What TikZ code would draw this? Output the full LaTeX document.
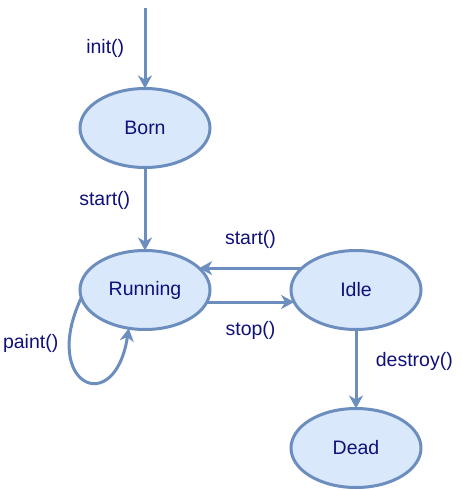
\documentclass[tikz,border=0pt]{standalone}
\usepackage{fontspec}
\setmainfont{Liberation Sans}
\usepackage{tikz}
\usetikzlibrary{positioning}
\usetikzlibrary{shapes.geometric}
\usetikzlibrary{arrows.meta}

\definecolor{stateFill}{HTML}{DAE8FC}
\definecolor{stateLine}{HTML}{6C8EBF}
\definecolor{stateText}{HTML}{10107A}

\begin{document}
\begin{tikzpicture}[
        x=1pt, y=-1pt,
        state/.style = {
            draw = stateLine,
            fill = stateFill,
            ellipse,
            line width = 3pt,
            minimum width = 130pt,
            minimum height = 79pt,
            inner sep = 0pt,
            outer sep = 0pt,
            text = stateText
        },
        trans/.style = {
            draw = stateLine,
            line width = 3pt,
            -{Stealth[length=13pt, width=14pt, inset=4pt]}
        },
        every node/.style = {font=\fontsize{19.5}{22}\selectfont, text=stateText},
        node distance = {83pt}
            ]
            \useasboundingbox (0,0) rectangle (461,490);

            \node[state] (born) at (145,128) {Born};
            \node[state, below=83pt of born] (run) {Running};
            \node[state, right=81pt of run] (idle) {Idle};
            \node[state, below=79pt of idle] (dead) {Dead};

            \coordinate (entry) at (145,8);

            \draw[trans] (entry) -- node[pos=0.5, left=16pt]{init()} (born);
            \draw[trans] (born) -- node[pos=0.4, left=10pt]{start()} (run);
            \draw[trans] (idle.158) -- node[above=15pt]{start()} (run.22);
            \draw[trans] (run.349) -- node[below=14pt]{stop()} (idle.191);
            \draw[trans] (idle) -- node[pos=0.4, right=15pt]{destroy()} (dead);
            \draw[trans] (run.187) .. controls +(-41,87) and +(-14,91) .. node[pos=0.2, left=6pt]{paint()} (run.247);

        \end{tikzpicture}
\end{document}
